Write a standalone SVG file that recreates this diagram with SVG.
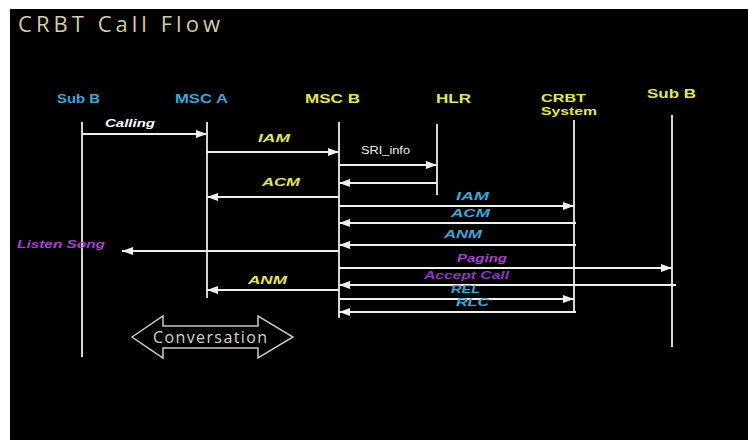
<svg xmlns="http://www.w3.org/2000/svg" width="748" height="440" viewBox="0 0 748 440">
<style>
.hdr{font-family:"Liberation Sans",Arial,sans-serif;font-weight:bold;font-size:12.5px}
.sm{font-size:11.5px}
.cy{fill:#35a8dc}
.ye{fill:#e6e64c}
.lbl{font-family:"Liberation Sans",Arial,sans-serif;font-weight:bold;font-style:italic;font-size:11px}
.mg{fill:#a840d0}
.life{stroke:#d4d4d4;stroke-width:2}
.msg{stroke:#f0f0f0;stroke-width:2;fill:none}
</style>
<defs>
<marker id="ah" markerUnits="userSpaceOnUse" markerWidth="11" markerHeight="8" refX="11" refY="4" orient="auto">
<path d="M0,0 L11,4 L0,8 z" fill="#f0f0f0"/>
</marker>
</defs>
<rect x="0" y="0" width="748" height="440" fill="#ffffff"/>
<rect x="10" y="9" width="738" height="431" fill="#000000"/>
<text x="18" y="32" font-family="'Open Sans',Lato,sans-serif" font-size="22" fill="#d8cca0" textLength="202" lengthAdjust="spacing">CRBT Call Flow</text>

<g id="subB1">
<text class="hdr cy" x="57" y="103" textLength="43" lengthAdjust="spacingAndGlyphs">Sub B</text>
<line class="life" x1="82" y1="122" x2="82" y2="357"/>
</g>
<g id="mscA">
<text class="hdr cy" x="175" y="103" textLength="53" lengthAdjust="spacingAndGlyphs">MSC A</text>
<line class="life" x1="207" y1="122" x2="207" y2="298"/>
</g>
<g id="mscB">
<text class="hdr ye" x="305" y="103" textLength="55" lengthAdjust="spacingAndGlyphs">MSC B</text>
<line class="life" x1="339" y1="122" x2="339" y2="318"/>
</g>
<g id="hlr">
<text class="hdr ye" x="436" y="103" textLength="35" lengthAdjust="spacingAndGlyphs">HLR</text>
<line class="life" x1="437" y1="124" x2="437" y2="195"/>
</g>
<g id="crbt">
<text class="hdr sm ye" x="541" y="102" textLength="45" lengthAdjust="spacingAndGlyphs">CRBT</text>
<text class="hdr sm ye" x="541" y="115" textLength="56" lengthAdjust="spacingAndGlyphs">System</text>
<line class="life" x1="574" y1="120" x2="574" y2="313"/>
</g>
<g id="subB2">
<text class="hdr ye" x="647" y="98" textLength="49" lengthAdjust="spacingAndGlyphs">Sub B</text>
<line class="life" x1="672" y1="115" x2="672" y2="347"/>
</g>

<g id="connectors">
<line class="msg" x1="82" y1="134" x2="207" y2="134" marker-end="url(#ah)"/>
<text class="lbl" fill="#ffffff" x="105" y="127" textLength="50" lengthAdjust="spacingAndGlyphs">Calling</text>

<line class="msg" x1="207" y1="152" x2="339" y2="152" marker-end="url(#ah)"/>
<text class="lbl ye" x="258" y="142" textLength="32" lengthAdjust="spacingAndGlyphs">IAM</text>

<line class="msg" x1="339" y1="165" x2="437" y2="165" marker-end="url(#ah)"/>
<text x="361" y="154" font-family="'Liberation Sans',Arial,sans-serif" font-size="10" fill="#f0f0f0" textLength="49" lengthAdjust="spacingAndGlyphs">SRI_info</text>

<line class="msg" x1="437" y1="183" x2="339" y2="183" marker-end="url(#ah)"/>

<line class="msg" x1="339" y1="197" x2="207" y2="197" marker-end="url(#ah)"/>
<text class="lbl ye" x="262" y="186" textLength="38" lengthAdjust="spacingAndGlyphs">ACM</text>

<line class="msg" x1="339" y1="206" x2="574" y2="206" marker-end="url(#ah)"/>
<text class="lbl cy" x="456" y="200" textLength="33" lengthAdjust="spacingAndGlyphs">IAM</text>

<line class="msg" x1="576" y1="223" x2="339" y2="223" marker-end="url(#ah)"/>
<text class="lbl cy" x="451" y="217" textLength="39" lengthAdjust="spacingAndGlyphs">ACM</text>

<line class="msg" x1="576" y1="245" x2="339" y2="245" marker-end="url(#ah)"/>
<text class="lbl cy" x="444" y="238" textLength="38" lengthAdjust="spacingAndGlyphs">ANM</text>

<line class="msg" x1="339" y1="251" x2="122" y2="251" marker-end="url(#ah)"/>
<text class="lbl mg" x="17" y="248" textLength="88" lengthAdjust="spacingAndGlyphs">Listen Song</text>

<line class="msg" x1="339" y1="268" x2="672" y2="268" marker-end="url(#ah)"/>
<text class="lbl mg" x="457" y="262" textLength="50" lengthAdjust="spacingAndGlyphs">Paging</text>

<line class="msg" x1="676" y1="285" x2="339" y2="285" marker-end="url(#ah)"/>
<text class="lbl" fill="#9434c8" x="424" y="279" textLength="85" lengthAdjust="spacingAndGlyphs">Accept Call</text>

<line class="msg" x1="339" y1="290" x2="207" y2="290" marker-end="url(#ah)"/>
<text class="lbl ye" x="248" y="284" textLength="39" lengthAdjust="spacingAndGlyphs">ANM</text>

<line class="msg" x1="339" y1="299" x2="574" y2="299" marker-end="url(#ah)"/>
<text class="lbl cy" x="451" y="293" textLength="29" lengthAdjust="spacingAndGlyphs">REL</text>

<line class="msg" x1="576" y1="312" x2="339" y2="312" marker-end="url(#ah)"/>
<text class="lbl cy" x="456" y="306" textLength="33" lengthAdjust="spacingAndGlyphs">RLC</text>
</g>

<g id="conversation">
<polygon points="132,337 163,316 163,326 258,326 258,316 293,337 258,358 258,348 163,348 163,358" fill="none" stroke="#c8c8c8" stroke-width="1.5"/>
<text x="153" y="343" font-family="'Open Sans','Liberation Sans',sans-serif" font-size="16" fill="#d4d4d4" textLength="114" lengthAdjust="spacing">Conversation</text>
</g>
</svg>
